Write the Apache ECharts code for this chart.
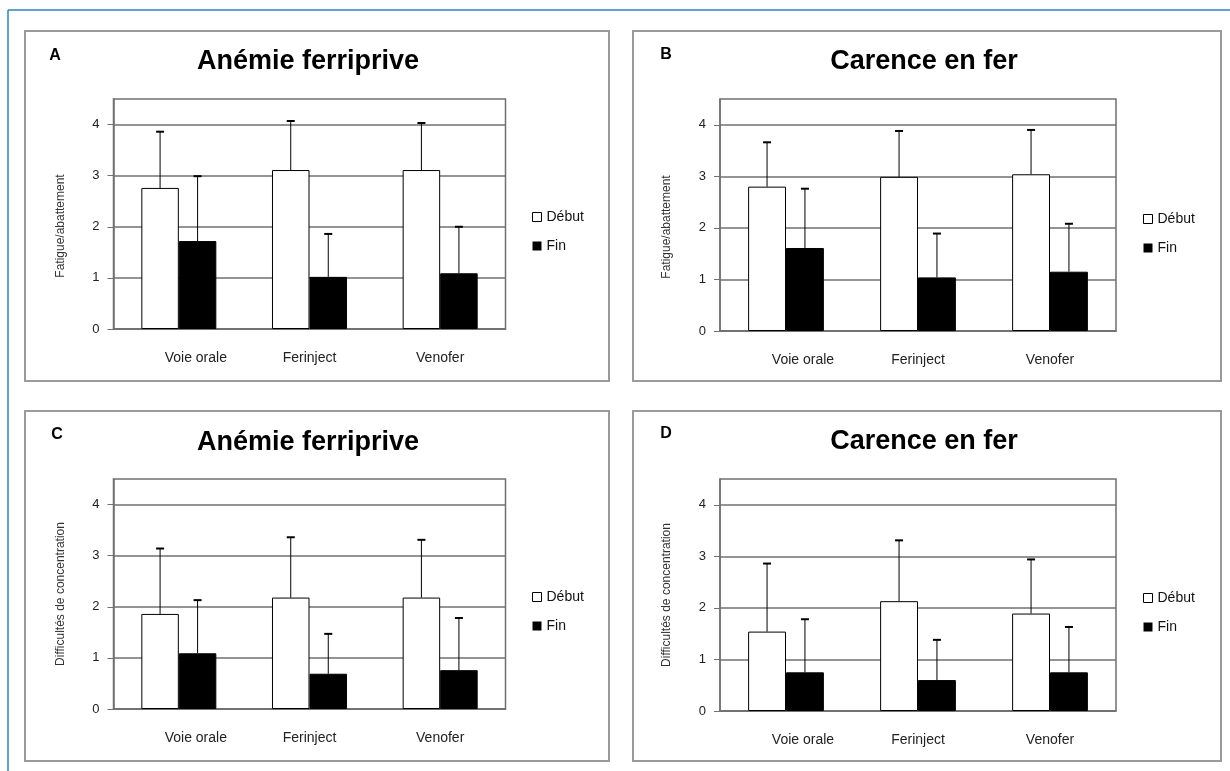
<!DOCTYPE html>
<html>
<head>
<meta charset="utf-8">
<script src="https://cdn.jsdelivr.net/npm/echarts@6/dist/echarts.min.js"></script>
<style>
  html, body { margin: 0; padding: 0; background: #fff; }
  #chart { width: 1230px; height: 771px; }
</style>
</head>
<body>
<div id="chart"></div>
<script>
// data
var categories = ['Voie orale', 'Ferinject', 'Venofer'];
var seriesNames = ['Début', 'Fin'];
var yTicks = [0, 1, 2, 3, 4];
var panelLetters = ['A', 'B', 'C', 'D'];
var panelTitles = ['Anémie ferriprive', 'Carence en fer', 'Anémie ferriprive', 'Carence en fer'];
var yNames = ['Fatigue/abattement', 'Fatigue/abattement', 'Difficultés de concentration', 'Difficultés de concentration'];

var debutA = [2.76, 3.11, 3.11];
var sdDebutA = [1.10, 0.96, 0.92];
var finA = [1.72, 1.02, 1.09];
var sdFinA = [1.27, 0.84, 0.91];

var debutB = [2.80, 2.99, 3.04];
var sdDebutB = [0.86, 0.89, 0.86];
var finB = [1.61, 1.04, 1.15];
var sdFinB = [1.15, 0.85, 0.93];

var debutC = [1.86, 2.18, 2.18];
var sdDebutC = [1.28, 1.18, 1.13];
var finC = [1.09, 0.69, 0.76];
var sdFinC = [1.04, 0.78, 1.02];

var debutD = [1.54, 2.13, 1.89];
var sdDebutD = [1.32, 1.18, 1.05];
var finD = [0.75, 0.60, 0.75];
var sdFinD = [1.03, 0.78, 0.88];

var panelData = [
    [debutA, sdDebutA, finA, sdFinA],
    [debutB, sdDebutB, finB, sdFinB],
    [debutC, sdDebutC, finC, sdFinC],
    [debutD, sdDebutD, finD, sdFinD]
];

// layout (pixels)
var panels = [
    { box: [25, 31, 584, 350], grid: [113.5, 99, 392, 230], title: [308, 62], letter: [55, 56], legend: [527, 205], namePad: 24 },
    { box: [633, 31, 588, 350], grid: [720, 99, 396, 232], title: [924, 62], letter: [666, 55], legend: [1138, 207], namePad: 24 },
    { box: [25, 411, 584, 350], grid: [113.5, 479, 392, 230], title: [308, 443], letter: [57, 435], legend: [527, 585], namePad: 0 },
    { box: [633, 411, 588, 350], grid: [720, 479, 396, 232], title: [924, 442], letter: [666, 434], legend: [1138, 586], namePad: 0 }
];

var FONT = '"Liberation Sans", Arial, sans-serif';
var GAP = 0.426;

function errorBars(side) {
    return function (params, api) {
        var v = api.value(1);
        var sd = api.value(2);
        var catW = api.size([1, 0])[0];
        var barW = catW * (1 - GAP) / 2;
        var p0 = api.coord([api.value(0), v]);
        var p1 = api.coord([api.value(0), v + sd]);
        var x = p0[0] + side * barW / 2;
        return {
            type: 'group',
            children: [
                { type: 'line', shape: { x1: x, y1: p0[1], x2: x, y2: p1[1] }, style: { stroke: '#000', lineWidth: 1 } },
                { type: 'line', shape: { x1: x - 4, y1: p1[1], x2: x + 4, y2: p1[1] }, style: { stroke: '#000', lineWidth: 2 } }
            ]
        };
    };
}

function errData(vals, sds) {
    return vals.map(function (v, i) { return [i, v, sds[i]]; });
}

function buildOption() {
    var grids = [], xAxes = [], yAxes = [], series = [], legends = [];
    var graphics = [
        { type: 'line', shape: { x1: 8, y1: 10, x2: 8, y2: 771 }, style: { stroke: '#2b86c5', lineWidth: 1.5 } },
        { type: 'line', shape: { x1: 8, y1: 10, x2: 1230, y2: 10 }, style: { stroke: '#2b86c5', lineWidth: 1.5 } }
    ];

    panels.forEach(function (p, k) {
        var d = panelData[k];
        grids.push({
            left: p.grid[0], top: p.grid[1], width: p.grid[2], height: p.grid[3],
            show: true, borderColor: '#707070', borderWidth: 1.5, backgroundColor: '#fff'
        });
        xAxes.push({
            type: 'category', gridIndex: k,
            data: categories.map(function (c, i) {
                return i === 0 ? { value: c, textStyle: { padding: [0, 0, 0, 34] } } : c;
            }),
            axisLine: { lineStyle: { color: '#707070', width: 1.5 } },
            axisTick: { length: 4, lineStyle: { color: '#707070' } },
            axisLabel: { margin: 22, fontSize: 14, color: '#222', fontFamily: FONT }
        });
        yAxes.push({
            type: 'value', gridIndex: k, min: 0, max: 4.5, interval: 1,
            name: yNames[k], nameLocation: 'middle', nameGap: 47,
            nameTextStyle: { fontSize: 12, color: '#333', fontFamily: FONT, padding: [0, p.namePad, 0, 0] },
            axisLine: { show: true, lineStyle: { color: '#707070', width: 1.5 } },
            axisTick: { show: true, length: 6, customValues: yTicks, lineStyle: { color: '#707070' } },
            axisLabel: { margin: 14, fontSize: 13, color: '#222', fontFamily: FONT, customValues: yTicks },
            splitLine: { lineStyle: { color: '#707070', width: 1.5 } }
        });
        series.push({
            name: seriesNames[0], type: 'bar', xAxisIndex: k, yAxisIndex: k,
            data: d[0], barGap: '0%', barCategoryGap: (GAP * 100) + '%',
            itemStyle: { color: '#fff', borderColor: '#000', borderWidth: 1 }
        });
        series.push({
            name: seriesNames[1], type: 'bar', xAxisIndex: k, yAxisIndex: k,
            data: d[2], barGap: '0%', barCategoryGap: (GAP * 100) + '%',
            itemStyle: { color: '#000', borderColor: '#000', borderWidth: 1 }
        });
        series.push({
            type: 'custom', xAxisIndex: k, yAxisIndex: k, z: 5,
            renderItem: errorBars(-1), data: errData(d[0], d[1])
        });
        series.push({
            type: 'custom', xAxisIndex: k, yAxisIndex: k, z: 5,
            renderItem: errorBars(1), data: errData(d[2], d[3])
        });
        legends.push({
            orient: 'vertical', left: p.legend[0], top: p.legend[1],
            icon: 'rect', itemWidth: 9, itemHeight: 9, itemGap: 15,
            textStyle: { fontSize: 14, color: '#111', fontFamily: FONT },
            data: [
                { name: seriesNames[0], itemStyle: { color: '#fff', borderColor: '#000', borderWidth: 1 } },
                { name: seriesNames[1], itemStyle: { color: '#000', borderWidth: 0 } }
            ]
        });
        graphics.push({
            type: 'rect', shape: { x: p.box[0], y: p.box[1], width: p.box[2], height: p.box[3] },
            style: { fill: 'none', stroke: '#9a9a9a', lineWidth: 2 }
        });
        graphics.push({
            type: 'text', x: p.title[0], y: p.title[1],
            style: { text: panelTitles[k], font: 'bold 27px ' + FONT, fill: '#000', textAlign: 'center', textVerticalAlign: 'middle' }
        });
        graphics.push({
            type: 'text', x: p.letter[0], y: p.letter[1],
            style: { text: panelLetters[k], font: 'bold 16px ' + FONT, fill: '#000', textAlign: 'center', textVerticalAlign: 'middle' }
        });
    });

    return {
        backgroundColor: '#fff',
        animation: false,
        grid: grids,
        xAxis: xAxes,
        yAxis: yAxes,
        legend: legends,
        series: series,
        graphic: graphics
    };
}

var chart = echarts.init(document.getElementById('chart'));
chart.setOption(buildOption());
</script>
</body>
</html>
